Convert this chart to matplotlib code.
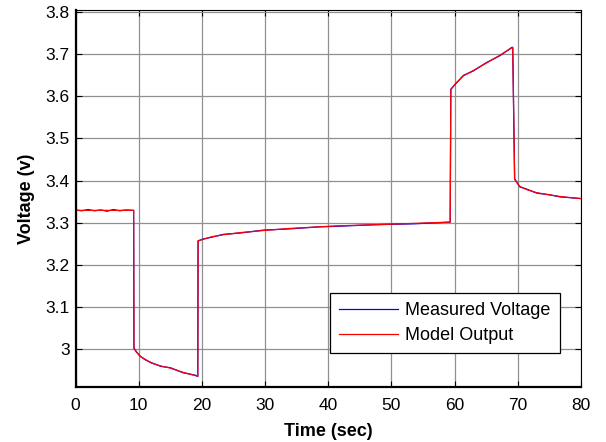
import matplotlib
matplotlib.use("Agg")
import matplotlib.pyplot as plt

# --- data ---
time_s = [0, 1, 2, 3, 4, 5, 6, 7, 8, 9.2, 9.25, 9.6, 10.2, 11, 12, 13.5, 15, 17, 19, 19.35,
          19.4, 20.2, 21.5, 23.4, 26, 29.7, 33.9, 38.8, 41.2, 47.5, 53.5, 59.3,
          59.4, 60, 61.4, 62.9, 65, 67.2, 69.1, 69.2,
          69.5, 70.3, 71.5, 73, 75, 76.7, 78.5, 80]

measured_v = [3.330, 3.328, 3.331, 3.328, 3.330, 3.327, 3.331, 3.328, 3.330, 3.329, 3.002, 2.993, 2.983, 2.974, 2.967, 2.958, 2.955, 2.943, 2.937, 2.934,
              3.256, 3.261, 3.265, 3.272, 3.275, 3.282, 3.285, 3.290, 3.291, 3.295, 3.297, 3.301,
              3.617, 3.627, 3.650, 3.660, 3.680, 3.697, 3.717, 3.716,
              3.404, 3.385, 3.379, 3.370, 3.366, 3.361, 3.359, 3.357]

model_v = [3.329, 3.329, 3.329, 3.329, 3.329, 3.329, 3.329, 3.329, 3.329, 3.329, 3.000, 2.994, 2.982, 2.975, 2.966, 2.959, 2.954, 2.944, 2.936, 2.935,
           3.257, 3.260, 3.266, 3.271, 3.276, 3.281, 3.286, 3.290, 3.292, 3.295, 3.298, 3.301,
           3.616, 3.628, 3.649, 3.661, 3.679, 3.698, 3.716, 3.716,
           3.403, 3.386, 3.378, 3.371, 3.366, 3.362, 3.359, 3.357]

x_ticks = [0, 10, 20, 30, 40, 50, 60, 70, 80]
y_ticks = [3.0, 3.1, 3.2, 3.3, 3.4, 3.5, 3.6, 3.7, 3.8]
y_tick_labels = ['3', '3.1', '3.2', '3.3', '3.4', '3.5', '3.6', '3.7', '3.8']

plt.rcParams['font.family'] = ['Liberation Sans', 'DejaVu Sans']

fig = plt.figure(figsize=(6.06, 4.42), dpi=100)
ax = fig.add_axes([0.1246, 0.1244, 0.8341, 0.8526])

ax.plot(time_s, measured_v, color='blue', linewidth=0.9, label='Measured Voltage')
ax.plot(time_s, model_v, color='red', linewidth=0.9, label='Model Output')

ax.set_xlim(0, 80)
ax.set_ylim(2.909, 3.805)
ax.set_xticks(x_ticks)
ax.set_yticks(y_ticks)
ax.set_yticklabels(y_tick_labels)
ax.tick_params(direction='in', top=True, right=True, length=4, width=0.8,
               labelsize=12.5)
ax.tick_params(axis='x', pad=8)
ax.tick_params(axis='y', pad=4)
ax.grid(True, color='#909090', linewidth=0.9)
ax.set_axisbelow(True)
for side in ['left', 'bottom']:
    ax.spines[side].set_linewidth(1.6)
for side in ['top', 'right']:
    ax.spines[side].set_linewidth(0.8)

ax.set_xlabel('Time (sec)', fontsize=13, fontweight='bold', labelpad=7)
ax.set_ylabel('Voltage (v)', fontsize=13, fontweight='bold', labelpad=8)

leg = ax.legend(loc='lower right', bbox_to_anchor=(0.958, 0.090), borderaxespad=0,
                fontsize=13, frameon=True, fancybox=False, edgecolor='black',
                framealpha=1, handlelength=3.3, handletextpad=0.4,
                borderpad=0.5, labelspacing=0.42)
leg.get_frame().set_linewidth(0.9)

fig.savefig('out.png', dpi=100)
